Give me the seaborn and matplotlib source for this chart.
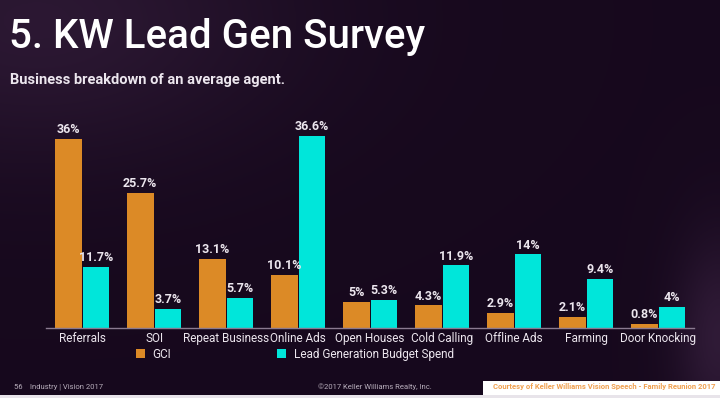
import numpy as np
import pandas as pd
import seaborn as sns
import matplotlib.pyplot as plt
from matplotlib.patches import Rectangle

# Data
categories = ["Referrals", "SOI", "Repeat Business", "Online Ads", "Open Houses",
              "Cold Calling", "Offline Ads", "Farming", "Door Knocking"]
gci = [36, 25.7, 13.1, 10.1, 5, 4.3, 2.9, 2.1, 0.8]
lead_spend = [11.7, 3.7, 5.7, 36.6, 5.3, 11.9, 14, 9.4, 4]
series_names = ["GCI", "Lead Generation Budget Spend"]
gci_labels = ["36%", "25.7%", "13.1%", "10.1%", "5%", "4.3%", "2.9%", "2.1%", "0.8%"]
spend_labels = ["11.7%", "3.7%", "5.7%", "36.6%", "5.3%", "11.9%", "14%", "9.4%", "4%"]

df = pd.DataFrame({
    "category": categories * 2,
    "value": gci + lead_spend,
    "series": [series_names[0]] * len(categories) + [series_names[1]] * len(categories),
})

sns.set_theme(style="white")
plt.rcParams['font.family'] = ['Roboto', 'DejaVu Sans']

bg = "#1b0a20"
orange = "#dc8a26"
cyan = "#00e6da"
txt = "#ece6ee"

fig = plt.figure(figsize=(7.2, 3.98), dpi=100, facecolor=bg)

# subtle background gradient
bgax = fig.add_axes([0, 0, 1, 1], zorder=-10)
yy, xx = np.mgrid[0:1:200j, 0:1:360j]
glow = np.exp(-(((xx - 0.05) / 0.35) ** 2 + ((yy - 0.05) / 0.35) ** 2))
glow2 = np.exp(-(((xx - 1.0) / 0.06) ** 2 + ((yy - 0.85) / 0.25) ** 2))
base = np.array([0.09, 0.035, 0.115])
hi = np.array([0.25, 0.15, 0.28])
img = base + (hi - base) * (0.5 * glow[..., None] + 0.6 * glow2[..., None])
bgax.imshow(img, extent=[0, 1, 0, 1], aspect="auto", origin="upper")
bgax.set_axis_off()

ax = fig.add_axes([0.064, 0.176, 0.9, 0.5276])
ax.set_facecolor("none")
sns.barplot(data=df, x="category", y="value", hue="series", palette=[orange, cyan],
            width=0.77, gap=0.04, ax=ax, saturation=1, edgecolor="none")

ax.set_ylim(0, 40)
ax.set_xlim(-0.5, len(categories) - 0.5)
ax.set_xlabel("")
ax.set_ylabel("")
ax.set_yticks([])
for s in ["top", "right", "left"]:
    ax.spines[s].set_visible(False)
ax.spines["bottom"].set_color("#8a7a90")
ax.spines["bottom"].set_linewidth(1)
ax.tick_params(axis="x", colors=txt, labelsize=8.5, length=0, pad=3)

for cont, labs in zip(ax.containers, [gci_labels, spend_labels]):
    ax.bar_label(cont, labels=labs, color=txt, fontsize=9, fontweight="bold", padding=2)

leg = ax.legend(loc="upper left", bbox_to_anchor=(0.138, -0.095), ncol=2, frameon=False,
                fontsize=8.5, handlelength=0.8, handleheight=0.8, handletextpad=0.6,
                columnspacing=9.0, borderaxespad=0, borderpad=0)
for t in leg.get_texts():
    t.set_color(txt)

# header text
fig.text(0.012, 0.955, "5. KW Lead Gen Survey", color="white", fontsize=29,
         fontweight="medium", va="top", ha="left")
fig.text(0.014, 0.80, "Business breakdown of an average agent.", color=txt,
         fontsize=10.5, fontweight="bold", va="center", ha="left")

# footer
fig.text(0.02, 0.02, "56    Industry | Vision 2017", color="#b8aebc", fontsize=5.5,
         va="bottom", ha="left")
fig.text(0.442, 0.02, "\u00a92017 Keller Williams Realty, Inc.", color="#b8aebc",
         fontsize=5.5, va="bottom", ha="left")
fig.patches.append(Rectangle((0.671, 0.0), 0.329, 0.043, transform=fig.transFigure,
                             facecolor="white", edgecolor="none", zorder=5))
fig.patches.append(Rectangle((0.0, 0.0), 1.0, 0.008, transform=fig.transFigure,
                             facecolor="#e8e4ea", edgecolor="none", zorder=5))
fig.text(0.994, 0.03, "Courtesy of Keller Williams Vision Speech - Family Reunion 2017",
         color="#f0a050", fontsize=5.5, fontweight="bold", va="center", ha="right", zorder=6)

fig.savefig("out.png", dpi=100, facecolor=bg)
